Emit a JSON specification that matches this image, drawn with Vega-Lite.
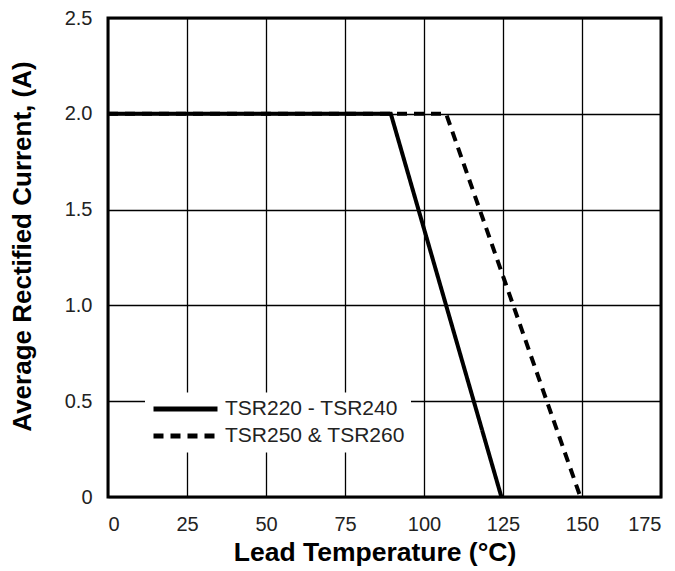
{
  "$schema": "https://vega.github.io/schema/vega-lite/v6.json",
  "width": 553,
  "height": 479,
  "autosize": {"type": "none"},
  "padding": {"left": 108, "top": 18, "right": 14, "bottom": 74},
  "background": "white",
  "config": {
    "view": {"stroke": "black", "strokeWidth": 3},
    "font": "Liberation Sans"
  },
  "data": {
    "values": [
      {"series": "TSR250 & TSR260", "temp": 0, "current": 2.0, "ord": 1},
      {"series": "TSR250 & TSR260", "temp": 107, "current": 2.0, "ord": 2},
      {"series": "TSR250 & TSR260", "temp": 149.5, "current": 0, "ord": 3},
      {"series": "TSR220 - TSR240", "temp": 0, "current": 2.0, "ord": 1},
      {"series": "TSR220 - TSR240", "temp": 89.5, "current": 2.0, "ord": 2},
      {"series": "TSR220 - TSR240", "temp": 124.5, "current": 0, "ord": 3}
    ]
  },
  "mark": {"type": "line", "strokeWidth": 4, "color": "black", "clip": true},
  "encoding": {
    "x": {
      "field": "temp", "type": "quantitative",
      "scale": {"domain": [0, 175], "nice": false, "zero": false},
      "axis": {
        "values": [0, 25, 50, 75, 100, 125, 150, 175],
        "title": "Lead Temperature (°C)",
        "titleFontSize": 26.5, "titleFontWeight": "bold", "titleColor": "black", "titlePadding": 5,
        "titleX": 266.5, "titleAlign": "center",
        "labelFontSize": 20, "labelColor": "#222", "labelPadding": 17,
        "domain": false, "ticks": false,
        "grid": true, "gridColor": "black", "gridOpacity": 1, "gridWidth": 1.3
      }
    },
    "y": {
      "field": "current", "type": "quantitative",
      "scale": {"domain": [0, 2.5], "nice": false},
      "axis": {
        "values": [0, 0.5, 1.0, 1.5, 2.0, 2.5],
        "labelExpr": "datum.value == 0 ? '0' : format(datum.value, '.1f')",
        "title": "Average Rectified Current, (A)",
        "titleFontSize": 26, "titleFontWeight": "bold", "titleColor": "black", "titlePadding": 29,
        "titleY": 228, "titleAlign": "center",
        "labelFontSize": 20, "labelColor": "#222", "labelPadding": 16,
        "domain": false, "ticks": false,
        "grid": true, "gridColor": "black", "gridOpacity": 1, "gridWidth": 1.3
      }
    },
    "order": {"field": "ord"},
    "detail": {"field": "series"},
    "strokeDash": {
      "field": "series", "type": "nominal",
      "scale": {"domain": ["TSR220 - TSR240", "TSR250 & TSR260"], "range": [[1, 0], [10, 7]]},
      "legend": {
        "title": null,
        "orient": "none",
        "legendX": 37,
        "legendY": 374.5,
        "fillColor": "white",
        "padding": 6,
        "symbolType": "M-1,0H7",
        "symbolSize": 256,
        "symbolStrokeWidth": 5,
        "symbolStrokeColor": "black",
        "labelFontSize": 21,
        "labelColor": "#222",
        "labelLimit": 400,
        "labelOffset": 53,
        "rowPadding": 5
      }
    },
    "zIndex": {"field": "ord"}
  }
}
